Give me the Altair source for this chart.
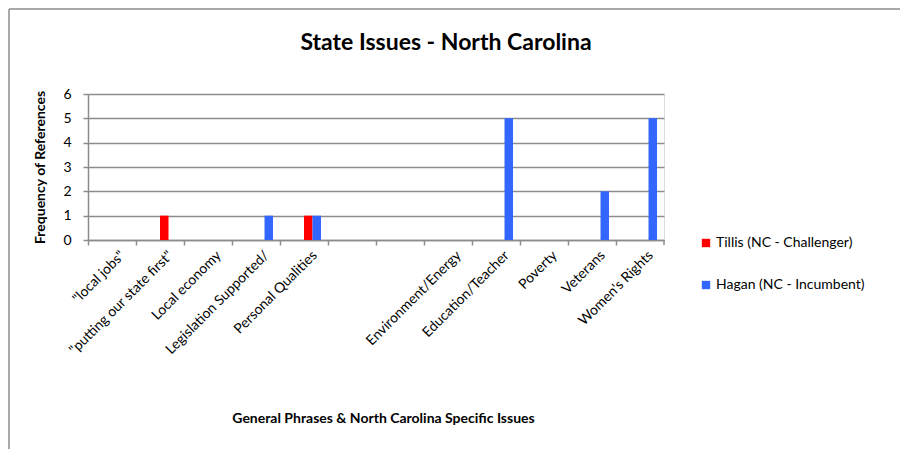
import altair as alt
import pandas as pd

# ---- data ----
categories = [
    '"local jobs"',
    '"putting our state first"',
    "Local economy",
    "Legislation Supported/",
    "Personal Qualities",
    " ",
    "  ",
    "Environment/Energy",
    "Education/Teacher",
    "Poverty",
    "Veterans",
    "Women's Rights",
]
tillis = [0, 1, 0, 0, 1, 0, 0, 0, 0, 0, 0, 0]
hagan = [0, 0, 0, 1, 1, 0, 0, 0, 5, 0, 2, 5]
series_names = ["Tillis (NC - Challenger)", "Hagan (NC - Incumbent)"]
series_slots = ["series 1", "series 2"] + series_names
series_colors = ["#FF0000", "#3366FF"]
y_ticks = [0, 1, 2, 3, 4, 5, 6]

title_text = "State Issues - North Carolina"
x_title = "General Phrases & North Carolina Specific Issues"
y_title = "Frequency of References"

rows = []
for i, c in enumerate(categories):
    rows.append({"category": c, "series": series_names[0], "value": tillis[i]})
    rows.append({"category": c, "series": series_names[1], "value": hagan[i]})
df = pd.DataFrame(rows)

FONT = "Lato"
GRAY = "#8c8c8c"
W, H = 576, 146

bars = alt.Chart(df).mark_bar().encode(
    x=alt.X(
        "category:N",
        sort=categories,
        scale=alt.Scale(domain=categories, paddingInner=0, paddingOuter=0),
        axis=alt.Axis(
            title=x_title,
            titleFont=FONT,
            titleFontSize=14,
            titleFontWeight="bold",
            titleColor="black",
            titleX=295,
            titleY=178,
            titleAlign="center",
            titleBaseline="middle",
            bandPosition=0,
            tickSize=5,
            tickColor=GRAY,
            tickWidth=1.5,
            domainColor=GRAY,
            domainWidth=1.5,
            labelAngle=-45,
            labelAlign="right",
            labelBaseline="top",
            labelOffset=6,
            labelPadding=3,
            labelFont=FONT,
            labelFontSize=14,
            labelColor="black",
            labelLimit=0,
            labelOverlap=False,
            grid=False,
        ),
    ),
    xOffset=alt.XOffset(
        "series:N",
        scale=alt.Scale(domain=series_slots, paddingInner=0, paddingOuter=0.82),
    ),
    y=alt.Y(
        "value:Q",
        scale=alt.Scale(domain=[0, 6], nice=False),
        axis=alt.Axis(
            title=y_title,
            titleFont=FONT,
            titleFontSize=14,
            titleFontWeight="bold",
            titleColor="black",
            titleX=-48,
            titleBaseline="middle",
            values=y_ticks,
            format="d",
            tickSize=5,
            tickColor=GRAY,
            tickWidth=1.5,
            domainColor=GRAY,
            domainWidth=1.5,
            labelFont=FONT,
            labelFontSize=14,
            labelColor="black",
            labelPadding=12,
            grid=True,
            gridColor=GRAY,
            gridWidth=1.5,
        ),
    ),
    color=alt.Color(
        "series:N",
        scale=alt.Scale(domain=series_names, range=series_colors),
        legend=alt.Legend(
            title=None,
            orient="none",
            legendX=611,
            legendY=142,
            symbolType="square",
            symbolSize=70,
            symbolStrokeWidth=0,
            labelFont=FONT,
            labelFontSize=14,
            labelColor="black",
            rowPadding=28,
            labelOffset=3,
        ),
    ),
)

one = pd.DataFrame({"k": [0]})
end_tick = alt.Chart(one).mark_rule(color=GRAY, strokeWidth=1.5).encode(
    x=alt.value(W), y=alt.value(H), y2=alt.value(H + 5)
)
border_top = alt.Chart(one).mark_rule(color=GRAY, strokeWidth=1.5).encode(
    x=alt.value(-79), x2=alt.value(W + 236), y=alt.value(-85)
)
border_left = alt.Chart(one).mark_rule(color=GRAY, strokeWidth=1.5).encode(
    x=alt.value(-79), y=alt.value(-85), y2=alt.value(H + 209)
)
title_mark = alt.Chart(one).mark_text(
    font=FONT, fontSize=23, fontWeight="bold", color="black",
    align="center", baseline="alphabetic",
).encode(x=alt.value(358), y=alt.value(-44), text=alt.value(title_text))

chart = alt.layer(bars, end_tick, border_top, border_left, title_mark).properties(
    width=W,
    height=H,
    padding={"left": 80, "top": 86, "right": 236, "bottom": 209},
    autosize=alt.AutoSizeParams(type="none"),
).configure_view(stroke="transparent").configure(background="white")

chart.save("out.html", embed_options={"renderer": "svg", "actions": False})
